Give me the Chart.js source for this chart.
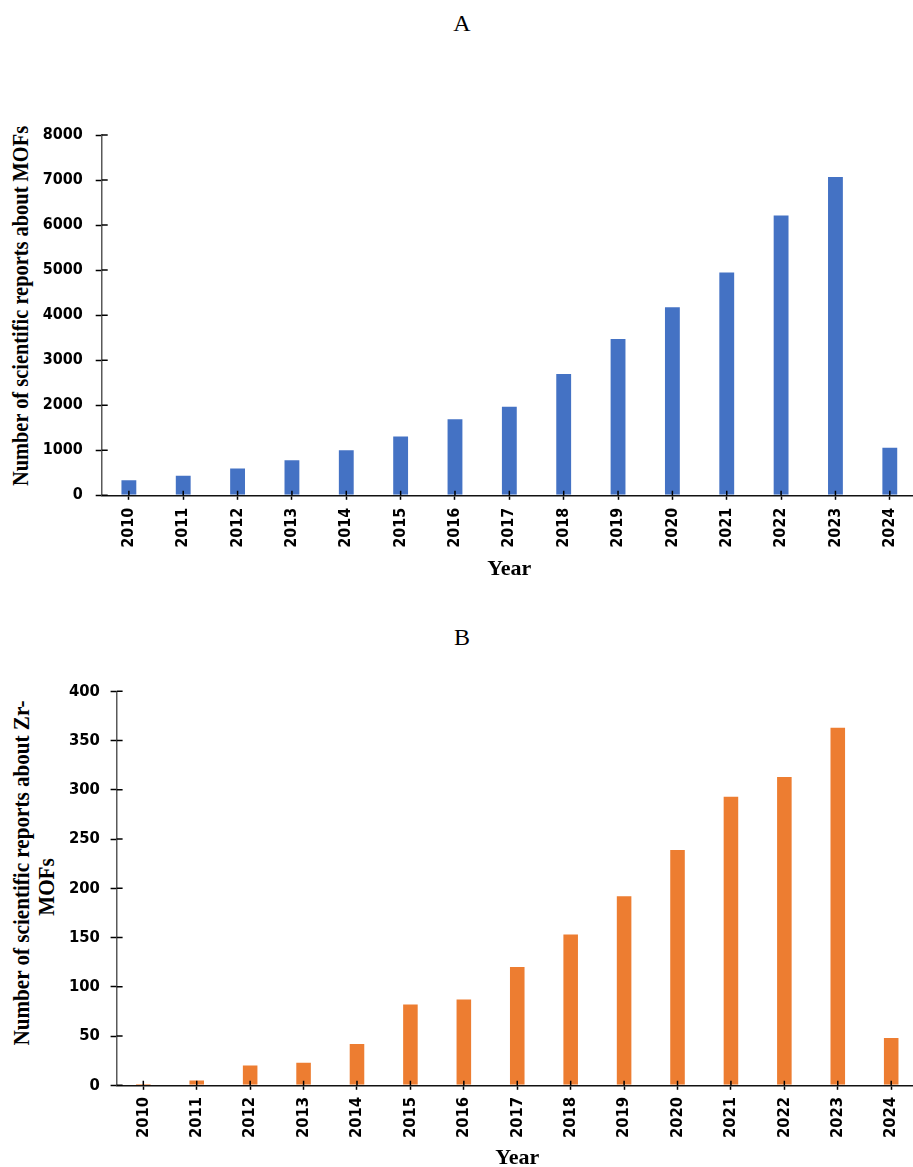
<!DOCTYPE html>
<html>
<head>
<meta charset="utf-8">
<script src="https://cdn.jsdelivr.net/npm/chart.js@4.4.1/dist/chart.umd.min.js"></script>
<style>
  html, body { margin: 0; padding: 0; background: #fff; }
  body { width: 913px; height: 1167px; overflow: hidden; position: relative; }
  .wrap { position: absolute; left: 0; }
  .ttl { position: absolute; font-family: "Liberation Serif", "Times New Roman", serif; color: #000;
         white-space: nowrap; line-height: 1; transform: translate(-50%, -50%); }
  .ytl { position: absolute; font-family: "Liberation Serif", "Times New Roman", serif; font-weight: bold;
         color: #000; white-space: nowrap; line-height: 1; }
</style>
</head>
<body>
<div class="ttl" style="left:462px; top:23px; font-size:24px;">A</div>
<div class="ttl" style="left:462px; top:637px; font-size:24px;">B</div>

<div class="ytl" id="ytA" style="left:20px; top:306px; font-size:24px; transform: translate(-50%,-50%) rotate(-90deg) scaleX(0.85);">Number of scientific reports about MOFs</div>
<div class="ytl" id="ytB1" style="left:21px; top:873px; font-size:24px; transform: translate(-50%,-50%) rotate(-90deg) scaleX(0.88);">Number of scientific reports about Zr-</div>
<div class="ytl" id="ytB2" style="left:46px; top:887px; font-size:24px; transform: translate(-50%,-50%) rotate(-90deg) scaleX(0.88);">MOFs</div>

<div class="wrap" style="top:0px; width:917px; height:600px;"><canvas id="chartA" width="917" height="600"></canvas></div>
<div class="wrap" style="top:600px; width:918px; height:580px;"><canvas id="chartB" width="918" height="580"></canvas></div>

<script>
const years = ['2010','2011','2012','2013','2014','2015','2016','2017','2018','2019','2020','2021','2022','2023','2024'];
const mofReports = [355, 455, 620, 800, 1020, 1330, 1710, 1990, 2715, 3490, 4195, 4970, 6235, 7090, 1080];
const zrMofReports = [2, 6, 21, 24, 43, 83, 88, 121, 154, 193, 240, 294, 314, 364, 49];
const yTicksA = [0, 1000, 2000, 3000, 4000, 5000, 6000, 7000, 8000];
const yTicksB = [0, 50, 100, 150, 200, 250, 300, 350, 400];

const tickFamily = "'DejaVu Sans Condensed', 'DejaVu Sans', sans-serif";

const innerTicks = {
  id: 'innerTicks',
  afterDatasetsDraw(chart, args, opts) {
    const ctx = chart.ctx;
    const xs = chart.scales.x, ys = chart.scales.y;
    ctx.save();
    ctx.strokeStyle = '#000';
    ctx.lineWidth = 1.5;
    ctx.beginPath();
    ys.ticks.forEach((t, i) => {
      const p = ys.getPixelForTick(i);
      ctx.moveTo(ys.right, p); ctx.lineTo(ys.right + opts.yIn, p);
    });
    xs.ticks.forEach((t, i) => {
      const p = xs.getPixelForTick(i);
      ctx.moveTo(p, xs.top); ctx.lineTo(p, xs.top - opts.xIn);
    });
    ctx.stroke();
    ctx.restore();
  }
};

function makeChart(id, values, color, yTicks, cfg) {
  return new Chart(document.getElementById(id), {
    type: 'bar',
    data: {
      labels: years,
      datasets: [{
        data: values,
        backgroundColor: color,
        borderColor: 'rgba(255,255,255,0.45)',
        borderWidth: 1,
        borderSkipped: 'start',
        barPercentage: 0.31,
        categoryPercentage: 1.0
      }]
    },
    plugins: [innerTicks],
    options: {
      responsive: false,
      animation: false,
      devicePixelRatio: 1,
      layout: { padding: { top: cfg.top, left: 0, right: 0, bottom: 0 } },
      plugins: {
        legend: { display: false },
        tooltip: { enabled: false },
        innerTicks: { yIn: 6, xIn: 4.5 }
      },
      scales: {
        x: {
          type: 'category',
          offset: true,
          grid: { display: true, drawOnChartArea: false, drawTicks: true, offset: false,
                  tickLength: 4.5, tickColor: '#000', tickWidth: 1.5 },
          border: { display: true, color: '#111', width: 1.5 },
          ticks: { autoSkip: false, minRotation: 90, maxRotation: 90, color: '#000', padding: cfg.xPad,
                   font: { family: tickFamily, weight: 'bold', size: cfg.tickSize } },
          title: { display: true, text: 'Year', color: '#000',
                   font: { family: 'Liberation Serif', weight: 'bold', size: 22, lineHeight: 1.2 },
                   padding: { top: 0, bottom: cfg.yearPad } },
          afterFit: s => { s.height = cfg.xH; }
        },
        y: {
          min: yTicks[0],
          max: yTicks[yTicks.length - 1],
          afterBuildTicks: s => { s.ticks = yTicks.map(v => ({ value: v })); },
          grid: { display: true, drawOnChartArea: false, drawTicks: true,
                  tickLength: 6, tickColor: '#000', tickWidth: 1.5 },
          border: { display: true, color: '#595959', width: 1.5 },
          ticks: { color: '#000', padding: cfg.yPad, callback: v => String(v),
                   font: { family: tickFamily, weight: 'bold', size: cfg.tickSize } },
          title: { display: false },
          afterFit: s => { s.width = cfg.yW; }
        }
      }
    }
  });
}

makeChart('chartA', mofReports, '#4472C4', yTicksA,
  { top: 135, xH: 600 - 495.3, yW: 101.7, yPad: 13, xPad: 8, tickSize: 16, yearPad: 17.3 });
makeChart('chartB', zrMofReports, '#ED7D31', yTicksB,
  { top: 91.3, xH: 580 - 485.3, yW: 116.6, yPad: 10.7, xPad: 7, tickSize: 16.5, yearPad: 8.3 });
</script>
</body>
</html>
